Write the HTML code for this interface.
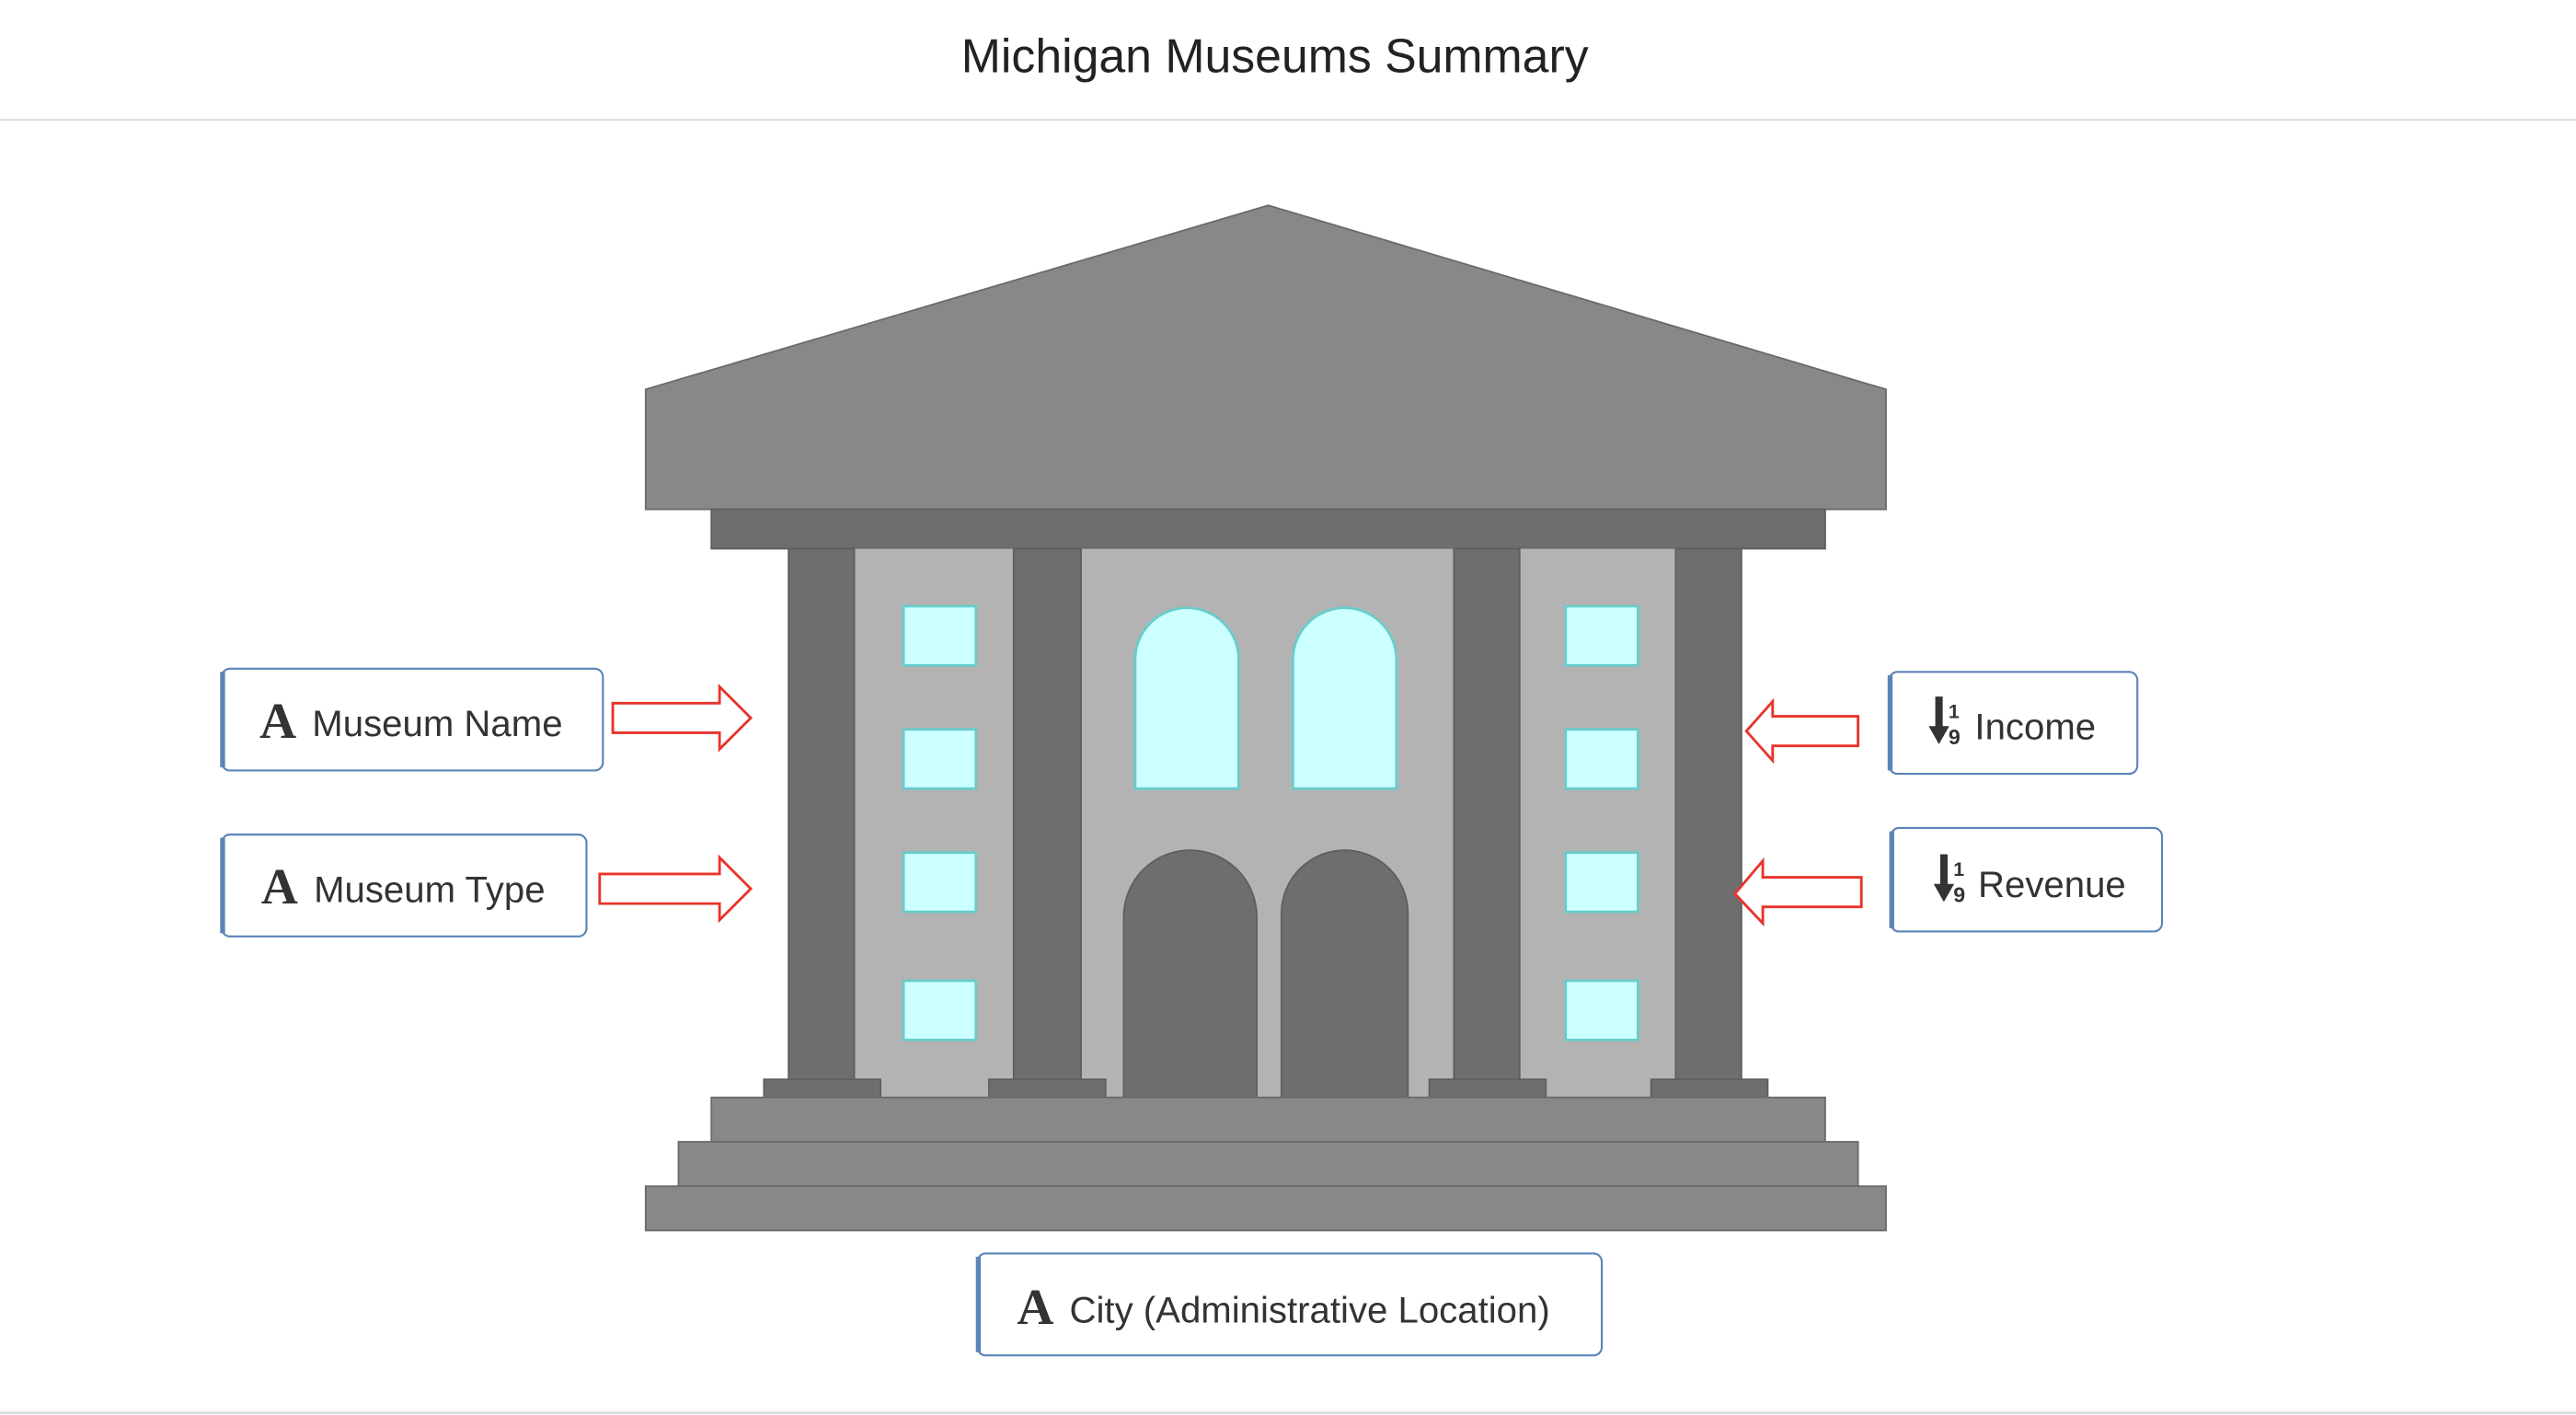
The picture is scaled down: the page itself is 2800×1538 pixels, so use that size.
<!DOCTYPE html>
<html><head><meta charset="utf-8"><style>
html,body{margin:0;padding:0;background:#fff;}
svg{display:block;}
text{font-family:"Liberation Sans",sans-serif;fill:#333;}
.lbl{font-size:22.5px;}
.ic{font-family:"Liberation Serif",serif;font-weight:bold;font-size:31px;}
</style></head><body>
<svg width="2800" height="1538" viewBox="0 0 1568 861.3" preserveAspectRatio="none" xmlns="http://www.w3.org/2000/svg">
<rect width="1568" height="861.3" fill="#fff"/>
<text x="776" y="44" text-anchor="middle" style="font-size:29px;fill:#222">Michigan Museums Summary</text>
<line x1="0" y1="73" x2="1568" y2="73" stroke="#ddd" stroke-width="1.2"/>
<line x1="0" y1="860" x2="1568" y2="860" stroke="#ddd" stroke-width="1.5"/>
<polygon points="393,237 772,125 1148,237 1148,310 393,310" fill="#888" stroke="#6a6a6a" stroke-width="1"/>
<rect x="433" y="310" width="678" height="24" fill="#6e6e6e" stroke="#5e5e5e"/>
<rect x="480" y="334" width="580" height="334" fill="#b3b3b3"/>
<g fill="#6e6e6e" stroke="#5e5e5e" stroke-width="1">
<rect x="480" y="334" width="40" height="324"/>
<rect x="617" y="334" width="41" height="324"/>
<rect x="885" y="334" width="40" height="324"/>
<rect x="1020" y="334" width="40" height="324"/>
<rect x="465" y="657" width="71" height="11"/>
<rect x="602" y="657" width="71" height="11"/>
<rect x="870" y="657" width="71" height="11"/>
<rect x="1005" y="657" width="71" height="11"/>
<path d="M684,668 V558 A40.5,40.5 0 0 1 765,558 V668 Z"/>
<path d="M780,668 V556 A38.5,38.5 0 0 1 857,556 V668 Z"/>
</g>
<g fill="#ccffff" stroke="#66cccc" stroke-width="1.5">
<rect x="550" y="369" width="44" height="36"/><rect x="550" y="444" width="44" height="36"/>
<rect x="550" y="519" width="44" height="36"/><rect x="550" y="597" width="44" height="36"/>
<rect x="953" y="369" width="44" height="36"/><rect x="953" y="444" width="44" height="36"/>
<rect x="953" y="519" width="44" height="36"/><rect x="953" y="597" width="44" height="36"/>
<path d="M691,480 V401.5 A31.5,31.5 0 0 1 754,401.5 V480 Z"/>
<path d="M787,480 V401.5 A31.5,31.5 0 0 1 850,401.5 V480 Z"/>
</g>
<g fill="#888" stroke="#6a6a6a" stroke-width="1">
<rect x="433" y="668" width="678" height="27"/>
<rect x="413" y="695" width="718" height="27"/>
<rect x="393" y="722" width="755" height="27"/>
</g>
<g fill="#fff" stroke="#e8342a" stroke-width="1.6">
<polygon points="373,428 438,428 438,418 457,437 438,456 438,446 373,446"/>
<polygon points="365,532 438,532 438,522 457,541 438,560 438,550 365,550"/>
<polygon points="1131,436 1079,436 1079,427 1063,445 1079,463 1079,454 1131,454"/>
<polygon points="1133,534 1073,534 1073,524 1056,544 1073,562 1073,552 1133,552"/>
</g>
<g fill="#fff" stroke="#5b84b8" stroke-width="1.2">
<rect x="135" y="407" width="232" height="62" rx="5"/>
<rect x="135" y="508" width="222" height="62" rx="5"/>
<rect x="1150" y="409" width="151" height="62" rx="5"/>
<rect x="1151" y="504" width="165" height="63" rx="5"/>
<rect x="595" y="763" width="380" height="62" rx="5"/>
</g>
<g fill="#5b84b8">
<rect x="134" y="409" width="3" height="58"/>
<rect x="134" y="510" width="3" height="58"/>
<rect x="1149" y="411" width="3" height="58"/>
<rect x="1150" y="506" width="3" height="59"/>
<rect x="594" y="765" width="3" height="58"/>
</g>
<text x="158" y="449" class="ic">A</text><text x="190" y="448" class="lbl">Museum Name</text>
<text x="159" y="550" class="ic">A</text><text x="191" y="549" class="lbl">Museum Type</text>
<text x="619" y="806" class="ic">A</text><text x="651" y="805" class="lbl">City (Administrative Location)</text>
<g>
<rect x="1178" y="424" width="4.5" height="19" fill="#333"/><polygon points="1174,442 1186.5,442 1180.2,453" fill="#333"/>
<text x="1186" y="437" style="font-size:12px;font-weight:bold">1</text>
<text x="1186" y="453" style="font-size:13px;font-weight:bold">9</text>
<text x="1202" y="450" class="lbl">Income</text>
<rect x="1181" y="520" width="4.5" height="19" fill="#333"/><polygon points="1177,538 1189.5,538 1183.2,549" fill="#333"/>
<text x="1189" y="533" style="font-size:12px;font-weight:bold">1</text>
<text x="1189" y="549" style="font-size:13px;font-weight:bold">9</text>
<text x="1204" y="546" class="lbl">Revenue</text>
</g>
</svg>
</body></html>
